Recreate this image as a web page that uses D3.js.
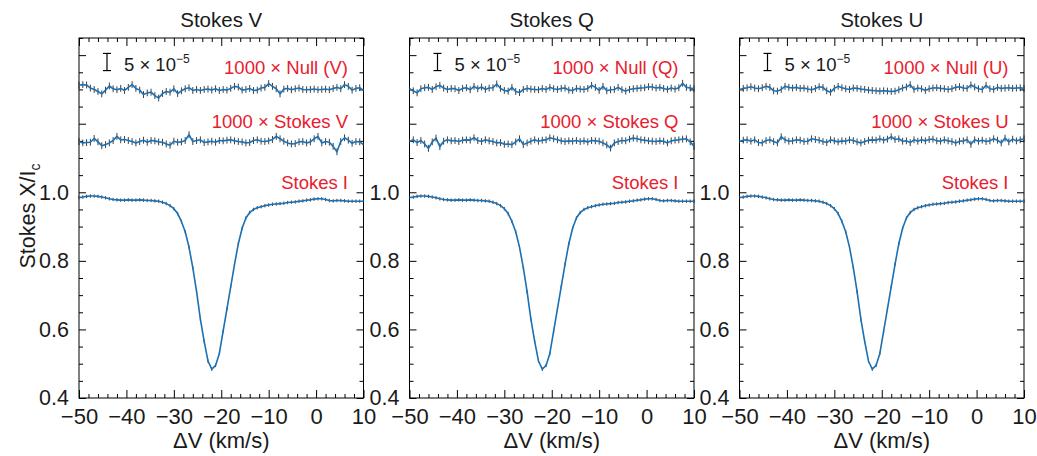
<!DOCTYPE html>
<html><head><meta charset="utf-8">
<script src="https://cdn.jsdelivr.net/npm/d3@7"></script>
<style>
body{margin:0;background:#fff}
text{font-family:"Liberation Sans",Arial,Helvetica,sans-serif}
</style>
</head><body>
<svg id="chart" width="1037" height="456"></svg>
<script>
// ---------- DATA ----------
// velocity grid (km/s), 0.8 km/s sampling
const velocity = d3.range(76).map(i => +(-50 + 0.8 * i).toFixed(1));

// Stokes I / Ic (same profile in each panel)
const stokesI = [
 0.985,0.986,0.988,0.989,0.989,0.988,0.986,0.984,0.981,0.979,
 0.978,0.977,0.977,0.978,0.977,0.977,0.978,0.977,0.976,0.976,
 0.975,0.974,0.971,0.967,0.961,0.952,0.938,0.915,0.885,0.840,
 0.780,0.710,0.630,0.565,0.508,0.484,0.495,0.530,0.595,0.660,
 0.725,0.790,0.850,0.895,0.925,0.941,0.950,0.955,0.958,0.961,
 0.963,0.965,0.966,0.967,0.968,0.970,0.971,0.972,0.974,0.975,
 0.977,0.978,0.980,0.981,0.981,0.979,0.976,0.975,0.976,0.976,
 0.975,0.974,0.974,0.974,0.974,0.974];

// polarisation & null profiles, units of 1e-5 Ic
const nullV = [
 1.2,1.4,1.3,0.4,0.0,-0.6,-1.3,-0.2,1.0,0.2,
 -0.1,0.3,-0.3,0.6,1.4,0.3,-0.2,-1.5,-1.0,-0.8,
 -1.8,-2.5,-1.2,-0.6,-0.8,0.2,-1.2,-0.4,0.2,0.5,
 -0.3,0.0,-0.3,0.0,0.1,-0.2,0.2,-0.3,
 0.0,-0.2,0.3,0.9,0.7,-0.2,0.0,0.3,-0.3,-0.2,
 0.4,0.6,1.7,0.9,0.2,-1.3,0.1,0.3,-0.1,0.2,
 0.4,0.0,-0.1,0.0,0.1,-0.1,0.0,0.1,-0.1,0.3,
 0.6,0.2,1.4,0.9,-0.2,0.3,0.5,-0.3];
const stokesV = [
 -0.2,-0.6,-0.5,-0.4,0.7,-0.3,-1.4,-1.1,-0.6,0.1,
 1.3,0.3,0.4,0.1,-0.2,-0.6,-0.2,0.2,-0.4,0.1,
 0.0,-0.3,-0.4,-0.9,-1.3,-0.1,-0.4,-0.3,0.1,1.8,
 -0.2,0.1,0.3,-0.5,-0.3,-0.1,-0.4,0.1,
 0.0,0.2,0.3,0.0,-0.2,-0.3,-0.6,-0.5,0.1,0.3,
 -0.1,-0.2,0.0,0.4,1.3,0.6,-0.1,-0.6,-0.9,-0.8,
 -0.3,-0.2,-0.6,-0.3,0.6,1.3,-0.6,-0.2,-0.4,-1.6,
 -3.2,-0.2,0.9,0.2,-0.7,-0.2,-0.3,-1.1];
const nullQ = [
 0.2,-0.4,-1.0,0.2,0.5,0.6,0.0,0.8,1.2,0.4,
 0.0,0.3,0.2,-0.3,0.3,0.5,-0.1,0.9,0.2,0.7,
 0.0,0.4,0.5,1.6,0.3,-0.3,-0.5,0.6,-0.6,-0.9,
 0.0,0.3,0.1,0.0,-0.1,0.3,0.0,0.6,
 0.2,0.0,0.3,0.4,-0.2,-0.3,0.3,0.1,0.0,0.3,
 1.2,0.6,-0.3,0.9,-0.4,-0.1,0.0,0.6,-0.1,-0.5,
 0.0,0.2,0.3,0.4,0.5,0.8,0.7,0.4,0.6,0.3,
 0.0,0.4,0.1,0.5,1.8,0.6,0.4,0.2];
const stokesQ = [
 -0.2,0.3,-0.5,0.1,-0.9,-2.2,-0.3,0.8,-1.7,-0.1,
 0.3,0.0,0.1,-0.2,0.2,0.3,0.2,0.9,0.1,-0.2,
 0.3,0.0,-0.2,-0.6,-0.5,-1.0,-0.9,-1.1,-0.3,0.6,
 -1.1,-0.6,-0.1,0.3,-0.1,0.2,0.3,0.9,
 0.6,0.3,0.0,-0.2,0.0,-0.1,0.1,-0.2,0.0,-0.3,
 0.1,0.0,-0.1,-0.6,-1.2,-2.1,-0.6,-0.2,0.1,0.0,
 0.5,0.8,0.6,0.3,0.2,0.0,-0.1,-0.2,0.0,-0.1,
 -0.6,0.0,0.2,0.3,0.5,0.6,-0.3,-1.6];
const nullU = [
 0.0,0.3,0.5,0.8,0.4,0.2,0.5,0.9,0.6,-0.4,
 -0.5,0.0,0.9,0.6,0.4,0.6,0.3,0.4,0.1,-0.1,
 0.3,0.8,0.6,-0.4,-0.8,0.3,0.9,0.5,0.2,0.0,
 0.4,0.3,0.1,0.0,-0.2,-0.3,-0.4,-0.5,
 -0.4,-0.5,-0.6,-0.5,-0.1,0.4,0.7,1.4,0.0,0.4,
 0.2,-0.3,0.2,0.4,0.5,0.3,0.2,0.0,0.2,0.6,
 0.8,0.4,0.3,1.3,0.7,0.2,0.0,1.2,0.2,0.0,
 0.6,0.3,0.4,0.5,0.3,0.4,0.5,0.3];
const stokesU = [
 -0.2,0.2,0.3,-0.1,0.3,-0.5,-0.6,0.1,0.3,-0.2,
 -0.6,1.2,0.3,-0.1,0.0,0.3,0.2,-0.2,-0.1,0.6,
 0.4,0.2,-0.2,-0.5,0.3,0.0,-0.3,0.0,-0.1,0.3,
 0.1,-0.3,-0.6,-0.2,0.2,0.3,0.2,0.6,
 0.2,0.5,1.2,0.4,0.6,-0.1,0.0,-0.5,0.3,-0.1,
 0.3,0.0,0.4,0.5,0.0,-0.1,0.3,0.0,-0.2,-0.6,
 -0.1,0.0,0.3,-1.0,0.3,-0.1,0.2,-0.2,0.0,0.6,
 0.2,-0.6,0.8,-0.3,0.5,0.0,0.3,0.6];

const panelTitles = ["Stokes V", "Stokes Q", "Stokes U"];
const nullLabels  = ["1000 × Null (V)", "1000 × Null (Q)", "1000 × Null (U)"];
const polLabels   = ["1000 × Stokes V", "1000 × Stokes Q", "1000 × Stokes U"];
const nullSeries  = [nullV, nullQ, nullU];
const polSeries   = [stokesV, stokesQ, stokesU];

const xMajorTicks = [-50, -40, -30, -20, -10, 0, 10];
const yMajorTicks = [0.4, 0.6, 0.8, 1.0, 1.2, 1.4];
const yLabelTicks = [0.4, 0.6, 0.8, 1.0];
const nullOffset = 1.30;     // vertical offset of null profile
const polOffset = 1.15;      // vertical offset of polarisation profile
const amplification = 1000;  // 1000 × Stokes
const unit = 1e-5;           // data arrays are in units of 1e-5
const polSigma = 1.0;        // error bar (1e-5)
const iSigma = 0.005;        // error bar on Stokes I
const legendBar = 5;         // 5 × 10^-5 scale bar
const legendCenter = 1.38;

// ---------- LAYOUT ----------
const svg = d3.select("#chart");
const panelLeft = [79, 409.5, 739.5];
const pw = 284.5, plotTop = 38, plotBottom = 398;
const blue = "#1a70b4", red = "#e8202e", ink = "#1a1a1a";

const x = d3.scaleLinear().domain([-50, 10]).range([0, pw]);
const y = d3.scaleLinear().domain([0.4, 1.45]).range([plotBottom, plotTop]);

const xMinor = d3.range(-25, 6).map(k => k * 2).filter(v => v % 10 !== 0);
const yMinor = d3.range(8, 30).map(k => +(k * 0.05).toFixed(2))
  .filter(v => !yMajorTicks.some(m => Math.abs(m - v) < 1e-6));

function styleAxis(a, fs) {
  a.select(".domain").remove();
  a.selectAll("line").attr("stroke", "#000").attr("stroke-width", 1);
  a.selectAll("text").attr("font-size", fs || 21).attr("fill", ink)
    .attr("font-family", '"Liberation Sans",Arial,sans-serif');
  return a;
}

panelTitles.forEach((title, p) => {
  const g = svg.append("g").attr("transform", `translate(${panelLeft[p]},0)`);

  // axes: major + minor, inward ticks on all four sides
  styleAxis(g.append("g").attr("transform", `translate(0,${plotBottom})`)
    .call(d3.axisBottom(x).tickValues(xMajorTicks).tickSize(-8).tickPadding(10)
      .tickFormat(d3.format("d"))), 22);
  styleAxis(g.append("g").attr("transform", `translate(0,${plotBottom})`)
    .call(d3.axisBottom(x).tickValues(xMinor).tickSize(-4).tickFormat("")));
  styleAxis(g.append("g").attr("transform", `translate(0,${plotTop})`)
    .call(d3.axisTop(x).tickValues(xMajorTicks).tickSize(-8).tickFormat("")));
  styleAxis(g.append("g").attr("transform", `translate(0,${plotTop})`)
    .call(d3.axisTop(x).tickValues(xMinor).tickSize(-4).tickFormat("")));
  styleAxis(g.append("g")
    .call(d3.axisLeft(y).tickValues(yMajorTicks).tickSize(-7).tickPadding(10)
      .tickFormat(d => yLabelTicks.includes(d) ? d3.format(".1f")(d) : "")), 21.5);
  styleAxis(g.append("g")
    .call(d3.axisLeft(y).tickValues(yMinor).tickSize(-4).tickFormat("")));
  styleAxis(g.append("g").attr("transform", `translate(${pw},0)`)
    .call(d3.axisRight(y).tickValues(yMajorTicks).tickSize(-7).tickFormat("")));
  styleAxis(g.append("g").attr("transform", `translate(${pw},0)`)
    .call(d3.axisRight(y).tickValues(yMinor).tickSize(-4).tickFormat("")));

  g.append("rect").attr("x", 0).attr("y", plotTop).attr("width", pw).attr("height", plotBottom - plotTop)
    .attr("fill", "none").attr("stroke", "#000").attr("stroke-width", 1);

  // series
  const series = [
    {vals: stokesI, f: v => v, sig: iSigma},
    {vals: polSeries[p], f: v => polOffset + amplification * unit * v, sig: amplification * unit * polSigma},
    {vals: nullSeries[p], f: v => nullOffset + amplification * unit * v, sig: amplification * unit * polSigma}
  ];
  series.forEach(s => {
    const pts = velocity.map((vel, i) => ({v: vel, val: s.f(s.vals[i])}));
    g.append("g").selectAll("line").data(pts).join("line")
      .attr("x1", d => x(d.v)).attr("x2", d => x(d.v))
      .attr("y1", d => y(d.val - s.sig)).attr("y2", d => y(d.val + s.sig))
      .attr("stroke", "#111").attr("stroke-opacity", 0.8).attr("stroke-width", 1);
    g.append("path").datum(pts)
      .attr("d", d3.line().x(d => x(d.v)).y(d => y(d.val)))
      .attr("fill", "none").attr("stroke", blue).attr("stroke-width", 1.6)
      .attr("stroke-linejoin", "round");
  });

  // scale bar legend
  const lb = amplification * unit * legendBar / 2;
  const lx = 28;
  const lg = g.append("g").attr("stroke", "#000").attr("stroke-width", 1.2);
  lg.append("line").attr("x1", lx).attr("x2", lx).attr("y1", y(legendCenter - lb)).attr("y2", y(legendCenter + lb));
  lg.append("line").attr("x1", lx - 4).attr("x2", lx + 4).attr("y1", y(legendCenter - lb)).attr("y2", y(legendCenter - lb));
  lg.append("line").attr("x1", lx - 4).attr("x2", lx + 4).attr("y1", y(legendCenter + lb)).attr("y2", y(legendCenter + lb));
  const lt = g.append("text").attr("x", 45).attr("y", 70.5).attr("font-size", 18.5).attr("fill", ink);
  lt.append("tspan").text("5 × 10");
  lt.append("tspan").attr("dy", -8).attr("font-size", 12).text("−5");

  // labels
  const lblX = pw - 15.5, lblFs = 18.5;
  g.append("text").attr("x", lblX).attr("y", y(nullOffset) - 15).attr("text-anchor", "end")
    .attr("font-size", lblFs).attr("fill", red).text(nullLabels[p]);
  g.append("text").attr("x", lblX).attr("y", y(polOffset) - 13).attr("text-anchor", "end")
    .attr("font-size", lblFs).attr("fill", red).text(polLabels[p]);
  g.append("text").attr("x", lblX).attr("y", y(1.0) - 3).attr("text-anchor", "end")
    .attr("font-size", lblFs).attr("fill", red).text("Stokes I");

  // title & x label
  g.append("text").attr("x", pw / 2).attr("y", 27).attr("text-anchor", "middle")
    .attr("font-size", 20.5).attr("fill", ink).text(title);
  g.append("text").attr("x", pw / 2).attr("y", 448).attr("text-anchor", "middle")
    .attr("font-size", 22).attr("fill", ink).text("ΔV (km/s)");
});

// y-axis label
const yl = svg.append("text").attr("transform", "translate(35,216) rotate(-90)")
  .attr("text-anchor", "middle").attr("font-size", 21.5).attr("fill", ink);
yl.append("tspan").text("Stokes X/I");
yl.append("tspan").attr("dy", 5).attr("font-size", 14).text("c");
</script>
</body></html>
